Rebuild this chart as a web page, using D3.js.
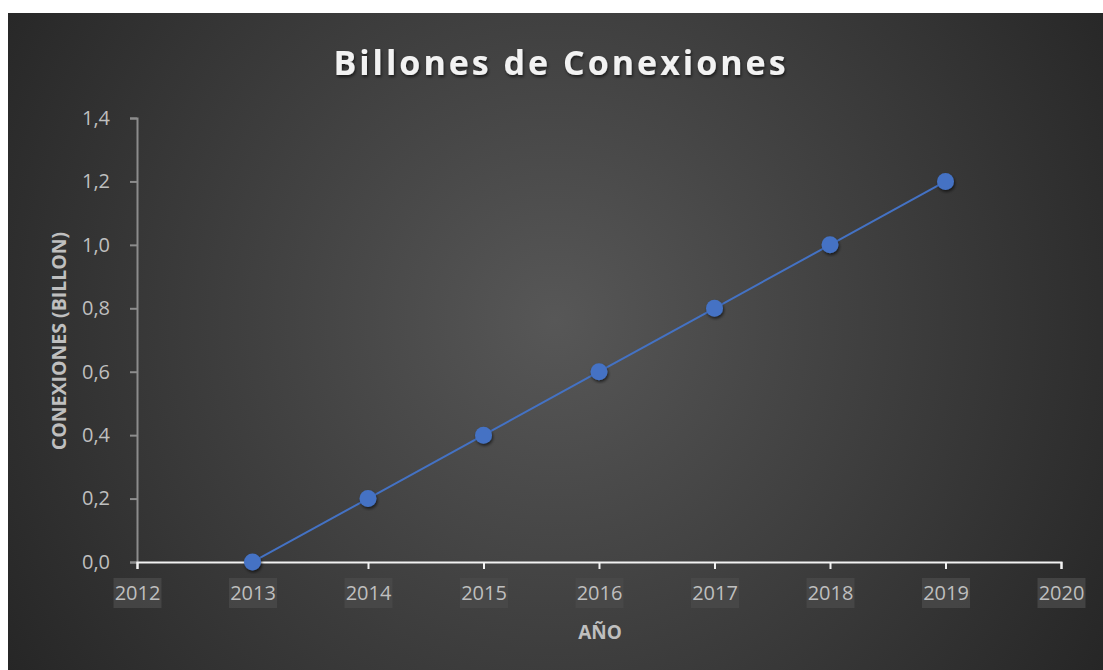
<!DOCTYPE html>
<html>
<head>
<meta charset="utf-8">
<script src="https://cdn.jsdelivr.net/npm/d3@7"></script>
<style>
  body { margin: 0; background: #fff; }
  svg { display: block; }
</style>
</head>
<body>
<svg></svg>
<script>
const years = [2013, 2014, 2015, 2016, 2017, 2018, 2019];
const conexiones = [0.0, 0.2, 0.4, 0.6, 0.8, 1.0, 1.2];
const xTicks = [2012, 2013, 2014, 2015, 2016, 2017, 2018, 2019, 2020];
const yTicks = [0, 0.2, 0.4, 0.6, 0.8, 1.0, 1.2, 1.4];

const width = 1103;
const height = 670;
const margin = { top: 118, right: 42, bottom: 108, left: 137 };

const svg = d3.select("svg")
    .attr("width", width)
    .attr("height", height);

const defs = svg.append("defs");

const grad = defs.append("radialGradient")
    .attr("id", "bg")
    .attr("gradientUnits", "userSpaceOnUse")
    .attr("cx", 555).attr("cy", 320).attr("r", 650);
grad.append("stop").attr("offset", "0%").attr("stop-color", "#575757");
grad.append("stop").attr("offset", "100%").attr("stop-color", "#262626");

const shadow = defs.append("filter").attr("id", "shadow")
    .attr("x", "-20%").attr("y", "-20%").attr("width", "140%").attr("height", "140%");
shadow.append("feDropShadow")
    .attr("dx", 1).attr("dy", 2).attr("stdDeviation", 1.5)
    .attr("flood-color", "#000").attr("flood-opacity", 0.6);

svg.append("rect")
    .attr("x", 8).attr("y", 13)
    .attr("width", width - 8).attr("height", height - 13)
    .attr("fill", "url(#bg)");

const x = d3.scaleLinear()
    .domain([2012, 2020])
    .range([margin.left, width - margin.right]);

const y = d3.scaleLinear()
    .domain([0, 1.4])
    .range([height - margin.bottom, margin.top]);

const fmt = d => d3.format(".1f")(d).replace(".", ",");

// y axis
const yAxis = svg.append("g")
    .attr("transform", `translate(${margin.left},0)`)
    .call(d3.axisLeft(y).tickValues(yTicks).tickSize(7).tickPadding(20).tickFormat(fmt));
yAxis.select(".domain").attr("stroke", "#8c8c8c").attr("stroke-width", 2);
yAxis.selectAll(".tick line").attr("stroke", "#8c8c8c").attr("stroke-width", 2);
yAxis.selectAll(".tick text")
    .attr("fill", "#bfbfbf")
    .attr("font-family", "'Open Sans', sans-serif")
    .attr("font-size", 20);

// x axis
const xAxis = svg.append("g")
    .attr("transform", `translate(0,${y(0)})`)
    .call(d3.axisBottom(x).tickValues(xTicks).tickSize(7).tickPadding(17).tickFormat(d3.format("d")));
xAxis.select(".domain").attr("stroke", "#f2f2f2").attr("stroke-width", 2);
xAxis.selectAll(".tick line").attr("stroke", "#f2f2f2").attr("stroke-width", 2);
xAxis.selectAll(".tick").insert("rect", "text")
    .attr("x", -24).attr("y", 16)
    .attr("width", 48).attr("height", 30)
    .attr("fill", "#4a4a4a")
    .attr("opacity", 0.8);
xAxis.selectAll(".tick text")
    .attr("fill", "#bfbfbf")
    .attr("font-family", "'Open Sans', sans-serif")
    .attr("font-size", 20);

// line
const line = d3.line()
    .x((d, i) => x(years[i]))
    .y(d => y(d));

svg.append("path")
    .datum(conexiones)
    .attr("fill", "none")
    .attr("stroke", "#4472c4")
    .attr("stroke-width", 2)
    .attr("d", line);

svg.append("g")
    .selectAll("circle")
    .data(conexiones)
    .join("circle")
    .attr("cx", (d, i) => x(years[i]))
    .attr("cy", d => y(d))
    .attr("r", 8.5)
    .attr("fill", "#4472c4")
    .attr("filter", "url(#shadow)");

// title
svg.append("text")
    .attr("x", 561)
    .attr("y", 75)
    .attr("text-anchor", "middle")
    .attr("font-family", "'Open Sans', sans-serif")
    .attr("font-weight", "bold")
    .attr("font-size", 34)
    .attr("letter-spacing", 3)
    .attr("fill", "#f2f2f2")
    .attr("filter", "url(#shadow)")
    .text("Billones de Conexiones");

// axis titles
svg.append("text")
    .attr("x", 600)
    .attr("y", 639)
    .attr("text-anchor", "middle")
    .attr("font-family", "'Open Sans', sans-serif")
    .attr("font-weight", "bold")
    .attr("font-size", 19)
    .attr("fill", "#bfbfbf")
    .text("AÑO");

svg.append("text")
    .attr("transform", "translate(66,341) rotate(-90)")
    .attr("text-anchor", "middle")
    .attr("font-family", "'Open Sans', sans-serif")
    .attr("font-weight", "bold")
    .attr("font-size", 19.5)
    .attr("fill", "#bfbfbf")
    .text("CONEXIONES (BILLON)");
</script>
</body>
</html>
